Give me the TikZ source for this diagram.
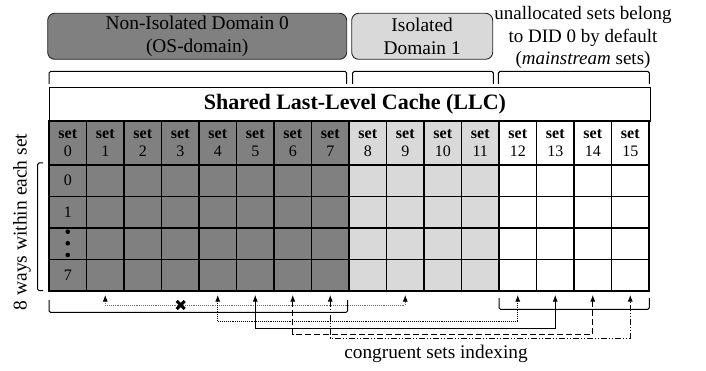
\documentclass[tikz,border=0pt]{standalone}
\usepackage{fontspec}
\setmainfont{Liberation Serif}
\usetikzlibrary{arrows.meta,calc}
\definecolor{dgray}{RGB}{128,128,128}
\definecolor{lgray}{RGB}{217,217,217}
\definecolor{dotgray}{RGB}{110,110,110}
\begin{document}
\begin{tikzpicture}[x=1pt,y=-1pt,
  cell/.style={draw=black, line width=1.1pt, minimum width=37.5pt, minimum height=31.5pt,
    inner sep=0pt, outer sep=0pt, anchor=north west},
  hcell/.style={cell, minimum height=44pt, align=center,
    font=\fontsize{16}{17.5}\selectfont},
  dombox/.style={draw=black!85, line width=0.9pt, rounded corners=7pt, align=center,
    inner sep=0pt, minimum height=46pt, font=\fontsize{19.4}{22.3}\selectfont},
  brk/.style={draw=black, line width=1pt, rounded corners=1.5pt},
  conn/.style={line width=0.9pt, {Latex[length=6.5pt,width=5pt,color=black]}-{Latex[length=6.5pt,width=5pt,color=black]}},
  bigtext/.style={font=\fontsize{19}{22.5}\selectfont, align=center, inner sep=0pt}
]
\useasboundingbox (0,0) rectangle (706,371);

% domain boxes
\node[dombox, fill=dgray, minimum width=299pt] (d0) at (197.2,36.3)
  {Non-Isolated Domain 0\\(OS-domain)};
\node[dombox, fill=lgray, minimum width=141pt] (d1) at (422.2,36.3)
  {Isolated\\Domain 1};
\node[bigtext] (unal) at (583,37.5)
  {unallocated sets belong\\to DID 0 by default\\(\textit{mainstream} sets)};

% top brackets
\draw[brk] (49,84) -- (49,71.5) -- (346.7,71.5) -- (346.7,84);
\draw[brk] (352.7,84) -- (352.7,71.5) -- (493.3,71.5) -- (493.3,84);
\draw[brk] (498.3,84) -- (498.3,71.5) -- (649.3,71.5) -- (649.3,84);

% LLC header
\node[draw=black, line width=1.1pt, minimum width=600.5pt, minimum height=34pt,
  inner sep=0pt, anchor=north west] (llc) at (49,87) {};
\node[font=\bfseries\fontsize{22}{26}\selectfont, inner sep=0pt] (llct) at (355,104)
  {Shared Last-Level Cache (LLC)};

% grid
\foreach \i in {0,...,15} {
  \pgfmathsetmacro\xx{49+37.5*\i}
  \ifnum\i<8 \def\cc{dgray}\else\ifnum\i<12 \def\cc{lgray}\else\def\cc{white}\fi\fi
  \node[hcell, fill=\cc] (h\i) at (\xx,121) {\textbf{set}\\\i};
  \foreach \j in {0,...,3} {
    \node[cell, fill=\cc] (c\i-\j) at (\xx,{165+31.5*\j}) {};
  }
  \coordinate (b\i) at ({\xx+18.75},295);
}

% way labels
\node[font=\fontsize{16}{17}\selectfont] (w0) at (c0-0) {0};
\node[font=\fontsize{16}{17}\selectfont] (w1) at (c0-1) {1};
\node[font=\fontsize{16}{17}\selectfont] (w7) at (c0-3) {7};
\fill (67.75,231.7) circle (2.3pt);
\fill (67.75,243.3) circle (2.3pt);
\fill (67.75,255) circle (2.3pt);

% left bracket
\draw[brk] (43,163) -- (37.7,163) -- (37.7,290.7) -- (43,290.7);
\node[bigtext, rotate=90, font=\fontsize{19.5}{22}\selectfont] (ways) at (22,222)
  {8 ways within each set};

% bottom brackets
\draw[brk] (49,300) -- (49,312.3) -- (347.7,312.3) -- (347.7,300);
\draw[brk] (499,298) -- (499,309.3) -- (649.3,309.3) -- (649.3,298);

% connectors
\coordinate (yA) at (0,305);
\coordinate (yB) at (0,321.5);
\coordinate (yC) at (0,328.3);
\coordinate (yD) at (0,334);
\coordinate (yE) at (0,338);
\draw[conn, dotgray, densely dotted] (b1) -- (b1 |- yA) -| (b9);
\draw[conn, black, densely dotted] (b4) -- (b4 |- yB) -| (b12);
\draw[conn, black] (b5) -- (b5 |- yC) -| (b13);
\draw[conn, black, dash pattern=on 6pt off 3pt] (b6) -- (b6 |- yD) -| (b14);
\draw[conn, black, dash pattern=on 6pt off 2pt on 1pt off 2pt on 1pt off 2pt] (b7) -- (b7 |- yE) -| (b15);

% cross
\coordinate (xm) at (180.7,305);
\draw[line width=3pt] ($(xm)+(-4,-4)$) -- ($(xm)+(4,4)$);
\draw[line width=3pt] ($(xm)+(-4,4)$) -- ($(xm)+(4,-4)$);

\node[font=\fontsize{19.3}{22}\selectfont, inner sep=0pt] (cong) at (436,354)
  {congruent sets indexing};
\end{tikzpicture}
\end{document}
